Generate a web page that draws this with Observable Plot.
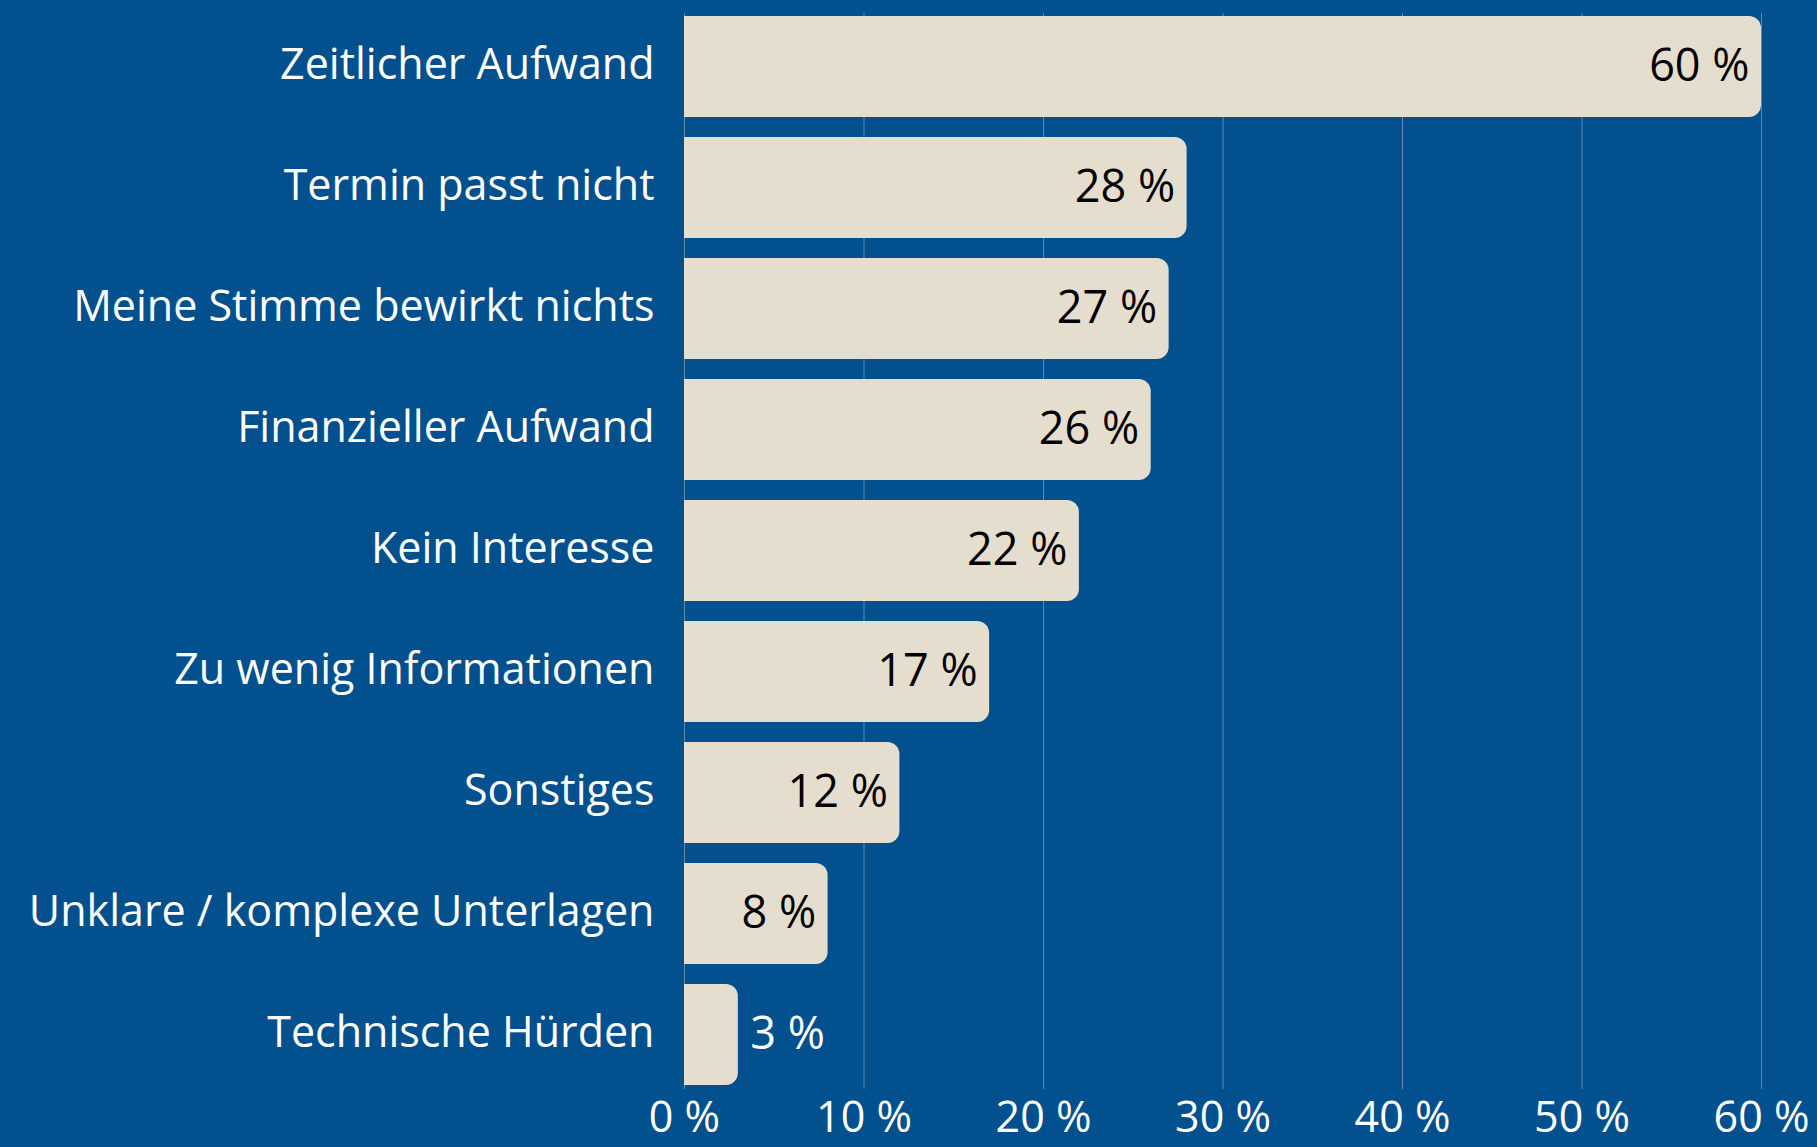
<!DOCTYPE html>
<html>
<head>
<meta charset="utf-8">
<script src="https://cdn.jsdelivr.net/npm/d3@7"></script>
<script src="https://cdn.jsdelivr.net/npm/@observablehq/plot@0.6"></script>
<style>
  html, body { margin: 0; padding: 0; background: #02508D; }
  #chart svg { display: block; }
</style>
</head>
<body>
<div id="chart"></div>
<script>
const categories = [
  "Zeitlicher Aufwand",
  "Termin passt nicht",
  "Meine Stimme bewirkt nichts",
  "Finanzieller Aufwand",
  "Kein Interesse",
  "Zu wenig Informationen",
  "Sonstiges",
  "Unklare / komplexe Unterlagen",
  "Technische Hürden"
];
const values = [60, 28, 27, 26, 22, 17, 12, 8, 3];
const xTicks = [0, 10, 20, 30, 40, 50, 60];

const data = categories.map((c, i) => ({category: c, value: values[i]}));

const BG = "#02508D";
const BAR = "#E5DECE";

const chart = Plot.plot({
  width: 1817,
  height: 1147,
  marginLeft: 684,
  marginRight: 56,
  marginTop: 13,
  marginBottom: 58,
  style: {background: BG, fontFamily: "'Open Sans', sans-serif", color: "white"},
  x: {domain: [0, 60], ticks: xTicks, tickFormat: d => `${d} %`, label: null},
  y: {domain: categories, padding: 0.163, paddingOuter: 0, label: null},
  marks: [
    Plot.gridX(xTicks, {stroke: "#5d89b5", strokeOpacity: 1, strokeWidth: 1}),
    Plot.barX(data, {y: "category", x1: 0, x2: "value", fill: BAR, rx: 12}),
    Plot.barX(data, {y: "category", x1: 0, x2: d => Math.min(d.value, 1), fill: BAR}),
    Plot.text(data.filter(d => d.value >= 5), {y: "category", x: "value", text: d => `${d.value} %`, textAnchor: "end", dx: -12, fill: "black", fontSize: 45, fontWeight: 400}),
    Plot.text(data.filter(d => d.value < 5), {y: "category", x: "value", text: d => `${d.value} %`, textAnchor: "start", dx: 12, fill: "white", fontSize: 45, fontWeight: 400}),
    Plot.axisY({tickSize: 0, tickPadding: 30, fontSize: 43, fill: "white", label: null, fontWeight: 400, dy: -2}),
    Plot.axisX({ticks: xTicks, tickFormat: d => `${d} %`, tickSize: 0, tickPadding: 12, fontSize: 43, fill: "white", label: null, fontWeight: 400})
  ]
});
document.getElementById("chart").appendChild(chart);
</script>
</body>
</html>
